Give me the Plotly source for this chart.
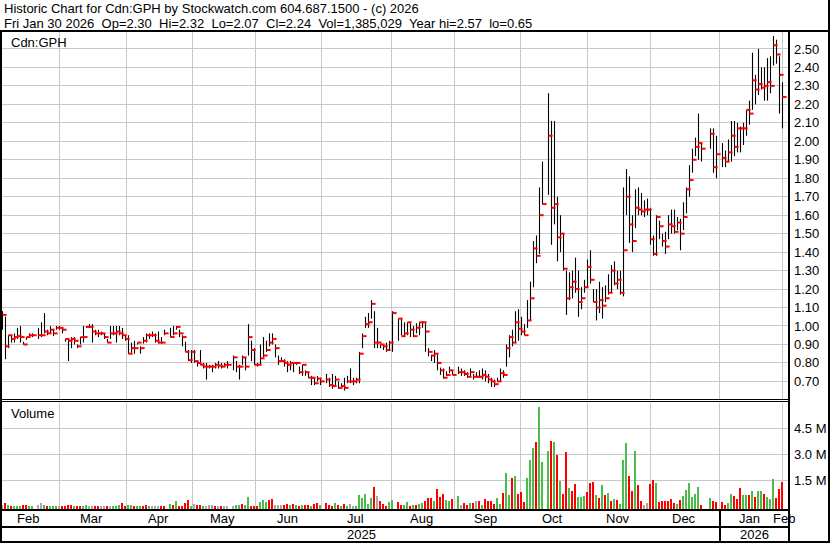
import numpy as np
import pandas as pd
import plotly.graph_objects as go

W, H = 830, 543
# plot box (pixels) shared by the price and volume panels
PL, PR, PT, PB = 2, 788, 32, 509
# weekday slot k sits at pixel X0 + DX * k (half-pixel centres keep 1px sticks crisp)
X0, DX = 5.5, 3.0

start = "2025-01-31"
end = "2026-01-30"
holidays = ["2025-02-17", "2025-04-18", "2025-05-19", "2025-07-01", "2025-08-04",
            "2025-09-01", "2025-10-13", "2025-12-25", "2025-12-26", "2026-01-01"]

# daily high / low / close, one row per month (Jan 31 2025 first)
high = [1.08,
        1.05, 0.95, 0.95, 0.96, 0.99, 1.00, 0.915, 0.94, 0.96, 0.96, 0.99, 1.02, 1.07, 0.98, 1.00, 0.98, 1.00, 1.00, 0.99,
        0.93, 0.93, 0.94, 0.94, 0.90, 0.94, 1.00, 1.00, 1.01, 1.01, 0.98, 0.98, 0.97, 0.96, 0.93, 1.00, 1.00, 1.00, 1.00, 0.99, 0.95,
        0.95, 0.91, 0.92, 0.91, 0.89, 0.94, 0.96, 0.96, 0.97, 0.96, 0.97, 0.94, 0.98, 0.99, 1.00, 1.00, 0.98, 0.95, 0.915, 0.87, 0.87,
        0.87, 0.81, 0.87, 0.80, 0.80, 0.79, 0.79, 0.80, 0.81, 0.80, 0.80, 0.81, 0.84, 0.81, 0.79, 0.84, 0.83, 1.01, 0.92, 0.88, 0.80,
        0.90, 0.94, 0.92, 0.96, 0.96, 0.90, 0.84, 0.83, 0.82, 0.81, 0.81, 0.80, 0.80, 0.78, 0.79, 0.76, 0.75, 0.73, 0.72, 0.73, 0.72,
        0.74, 0.72, 0.74, 0.73, 0.70, 0.69, 0.72, 0.73, 0.77, 0.72, 0.72, 0.86, 0.96, 1.05, 1.07, 1.14, 1.08, 0.99, 0.90, 0.90, 0.91, 0.92,
        1.08, 1.04, 1.04, 1.02, 1.02, 1.015, 1.00, 1.015, 1.02, 1.02, 1.015, 0.88, 0.845, 0.87, 0.845, 0.775, 0.77, 0.755, 0.78, 0.76,
        0.78, 0.77, 0.76, 0.75, 0.77, 0.74, 0.75, 0.76, 0.77, 0.76, 0.74, 0.72, 0.71, 0.72, 0.77, 0.76, 0.90, 0.95, 0.98, 1.08, 1.09,
        1.05, 1.01, 1.14, 1.24, 1.46, 1.49, 1.75, 1.89, 2.26, 2.11, 2.11, 1.70, 1.60, 1.50, 1.30, 1.29, 1.30, 1.37, 1.30, 1.21, 1.25, 1.36,
        1.41, 1.20, 1.20, 1.24, 1.21, 1.22, 1.28, 1.33, 1.35, 1.30, 1.30, 1.75, 1.85, 1.81, 1.60, 1.74, 1.75, 1.72, 1.68, 1.69,
        1.64, 1.49, 1.60, 1.57, 1.50, 1.51, 1.60, 1.63, 1.63, 1.59, 1.58, 1.67, 1.75, 1.87, 1.96, 2.02, 2.15, 1.99, 2.07, 2.07, 2.03,
        1.99, 1.95, 2.01, 2.11, 2.11, 2.10, 2.08, 2.10, 2.17, 2.22, 2.48, 2.36, 2.50, 2.40, 2.40, 2.45, 2.46, 2.57, 2.55, 2.46, 2.32]

low = [0.98,
       0.82, 0.88, 0.91, 0.91, 0.93, 0.91, 0.90, 0.925, 0.94, 0.94, 0.93, 0.94, 0.96, 0.95, 0.96, 0.945, 0.98, 0.98, 0.96,
       0.915, 0.81, 0.88, 0.90, 0.88, 0.90, 0.91, 0.99, 0.99, 0.91, 0.95, 0.94, 0.95, 0.93, 0.91, 0.93, 0.95, 0.91, 0.95, 0.93, 0.92,
       0.85, 0.855, 0.85, 0.90, 0.85, 0.905, 0.91, 0.93, 0.94, 0.91, 0.905, 0.905, 0.95, 0.94, 0.95, 0.98, 0.94, 0.89, 0.86, 0.81, 0.80,
       0.80, 0.78, 0.79, 0.77, 0.71, 0.77, 0.75, 0.77, 0.77, 0.77, 0.78, 0.77, 0.76, 0.75, 0.71, 0.79, 0.76, 0.84, 0.81, 0.79, 0.78,
       0.79, 0.83, 0.86, 0.89, 0.90, 0.83, 0.79, 0.81, 0.78, 0.75, 0.76, 0.75, 0.79, 0.74, 0.73, 0.73, 0.72, 0.68, 0.68, 0.70, 0.68,
       0.69, 0.67, 0.66, 0.67, 0.66, 0.67, 0.65, 0.69, 0.69, 0.68, 0.69, 0.69, 0.88, 0.99, 0.99, 1.04, 0.88, 0.88, 0.88, 0.87, 0.86, 0.87,
       0.86, 0.92, 0.95, 0.94, 0.95, 0.94, 0.94, 0.96, 0.95, 0.99, 0.86, 0.835, 0.81, 0.80, 0.76, 0.735, 0.715, 0.73, 0.745, 0.735,
       0.74, 0.73, 0.73, 0.72, 0.73, 0.71, 0.72, 0.72, 0.71, 0.70, 0.69, 0.67, 0.67, 0.70, 0.70, 0.72, 0.78, 0.83, 0.89, 0.91, 0.92,
       0.95, 0.95, 0.99, 1.03, 1.21, 1.34, 1.39, 1.66, 1.71, 1.44, 1.55, 1.35, 1.40, 1.30, 1.06, 1.14, 1.15, 1.18, 1.05, 1.09, 1.18, 1.21,
       1.23, 1.13, 1.03, 1.07, 1.04, 1.13, 1.17, 1.18, 1.22, 1.20, 1.17, 1.16, 1.60, 1.45, 1.40, 1.53, 1.60, 1.60, 1.59, 1.60,
       1.44, 1.38, 1.38, 1.47, 1.43, 1.39, 1.47, 1.50, 1.50, 1.52, 1.41, 1.52, 1.61, 1.70, 1.83, 1.92, 1.90, 1.89, 1.96, 1.83, 1.80,
       1.86, 1.86, 1.89, 1.89, 1.92, 1.94, 1.94, 1.98, 2.03, 2.09, 2.17, 2.20, 2.25, 2.28, 2.22, 2.22, 2.26, 2.41, 2.42, 2.15, 2.07]

close = [1.06,
         0.89, 0.95, 0.93, 0.94, 0.945, 0.94, 0.90, 0.94, 0.95, 0.95, 0.95, 0.95, 0.97, 0.96, 0.98, 0.96, 0.99, 0.99, 0.98,
         0.93, 0.92, 0.93, 0.92, 0.89, 0.94, 0.94, 0.995, 0.995, 0.97, 0.96, 0.96, 0.96, 0.94, 0.91, 0.96, 0.96, 0.97, 0.96, 0.95, 0.93,
         0.85, 0.88, 0.88, 0.91, 0.88, 0.92, 0.95, 0.95, 0.95, 0.92, 0.91, 0.91, 0.96, 0.94, 0.96, 0.995, 0.96, 0.94, 0.86, 0.815, 0.86,
         0.81, 0.80, 0.79, 0.78, 0.78, 0.78, 0.78, 0.79, 0.785, 0.78, 0.79, 0.79, 0.83, 0.78, 0.78, 0.83, 0.78, 0.94, 0.87, 0.79, 0.79,
         0.825, 0.84, 0.87, 0.91, 0.93, 0.88, 0.81, 0.81, 0.80, 0.79, 0.80, 0.80, 0.80, 0.75, 0.79, 0.75, 0.72, 0.72, 0.69, 0.715, 0.70,
         0.71, 0.68, 0.675, 0.71, 0.665, 0.675, 0.665, 0.70, 0.70, 0.70, 0.71, 0.85, 0.945, 1.01, 1.02, 1.12, 0.91, 0.91, 0.90, 0.89, 0.87, 0.91,
         1.07, 1.04, 0.945, 0.96, 1.02, 0.98, 0.945, 0.99, 1.02, 1.02, 0.97, 0.86, 0.84, 0.85, 0.80, 0.76, 0.72, 0.735, 0.76, 0.735,
         0.75, 0.75, 0.74, 0.725, 0.75, 0.725, 0.725, 0.725, 0.735, 0.725, 0.71, 0.70, 0.685, 0.70, 0.745, 0.735, 0.88, 0.94, 0.91, 1.02, 0.985,
         0.97, 0.95, 1.03, 1.15, 1.42, 1.38, 1.60, 1.66, 2.03, 1.64, 1.66, 1.48, 1.50, 1.31, 1.15, 1.21, 1.24, 1.20, 1.13, 1.15, 1.21, 1.32,
         1.25, 1.13, 1.10, 1.14, 1.11, 1.15, 1.18, 1.30, 1.23, 1.25, 1.18, 1.41, 1.70, 1.55, 1.46, 1.64, 1.63, 1.62, 1.63, 1.63,
         1.47, 1.39, 1.59, 1.54, 1.46, 1.43, 1.55, 1.54, 1.51, 1.56, 1.50, 1.59, 1.74, 1.79, 1.90, 1.97, 1.99, 1.96, 2.04, 1.86, 1.93,
         1.91, 1.89, 1.94, 2.03, 1.97, 2.07, 2.07, 2.07, 2.17, 2.15, 2.33, 2.28, 2.31, 2.29, 2.30, 2.32, 2.30, 2.52, 2.47, 2.36, 2.24]

# daily volume, millions of shares
volume_m = [0.05,
            0.17, 0.07, 0.03, 0.02, 0.02, 0.02, 0.05, 0.07, 0.02, 0.02, 0.05, 0.19, 0.05, 0.03, 0.03, 0.03, 0.03, 0.02, 0.03,
            0.03, 0.05, 0.05, 0.02, 0.02, 0.03, 0.03, 0.06, 0.03, 0.03, 0.03, 0.03, 0.02, 0.02, 0.02, 0.02, 0.03, 0.03, 0.05, 0.19, 0.03,
            0.05, 0.05, 0.03, 0.03, 0.02, 0.03, 0.07, 0.02, 0.03, 0.03, 0.03, 0.03, 0.03, 0.12, 0.05, 0.31, 0.02, 0.02, 0.17, 0.36, 0.03,
            0.13, 0.07, 0.05, 0.03, 0.03, 0.05, 0.05, 0.03, 0.03, 0.03, 0.02, 0.02, 0.03, 0.07, 0.07, 0.13, 0.07, 0.55, 0.03, 0.03, 0.03,
            0.27, 0.36, 0.25, 0.36, 0.40, 0.05, 0.05, 0.05, 0.05, 0.15, 0.05, 0.13, 0.05, 0.02, 0.07, 0.07, 0.10, 0.02, 0.13, 0.17, 0.05,
            0.17, 0.05, 0.02, 0.17, 0.05, 0.02, 0.13, 0.02, 0.12, 0.03, 0.03, 0.65, 0.48, 0.71, 0.13, 0.50, 1.11, 0.59, 0.30, 0.13, 0.03, 0.27,
            0.36, 0.25, 0.07, 0.07, 0.25, 0.03, 0.05, 0.07, 0.13, 0.19, 0.30, 0.48, 0.48, 0.30, 1.00, 0.53, 0.71, 0.36, 0.30, 0.42,
            0.59, 0.07, 0.19, 0.07, 0.19, 0.19, 0.30, 0.30, 0.07, 0.42, 0.30, 0.30, 0.13, 0.48, 0.13, 0.76, 1.92, 0.65, 1.63, 1.75, 0.71,
            0.82, 0.25, 1.63, 2.67, 3.36, 3.71, 5.75, 2.56, 3.19, 3.77, 3.71, 2.96, 1.46, 0.71, 3.13, 1.06, 0.91, 1.28, 0.53, 0.53, 0.59, 0.82,
            1.34, 1.40, 0.65, 0.48, 1.23, 0.65, 0.76, 0.30, 0.42, 0.36, 0.13, 2.67, 3.65, 1.75, 0.88, 3.19, 1.23, 0.30, 0.05, 0.19,
            1.28, 1.52, 1.34, 0.25, 0.30, 0.30, 0.30, 0.42, 0.19, 0.13, 0.36, 0.59, 0.94, 1.34, 0.53, 0.71, 1.11, 0.07, 0.48, 0.30, 0.25,
            0.25, 0.07, 0.19, 0.71, 0.59, 0.42, 1.06, 0.65, 0.65, 0.65, 0.88, 0.53, 0.88, 0.88, 0.71, 0.53, 0.42, 1.57, 0.48, 1.00, 1.385]

# volume bar colour per day: g = up, r = down, n = unchanged (one string per month)
volume_dir = "".join([
    "n",
    "rgrgggrrggnngrgggnr",
    "rrrgrrggnnrrnnrngggrr",
    "ggrggrrgnnnrrgrgrrrrg",
    "nrrgnnnrnrnnnggrggrrr",
    "gggrrnnnrrgrgrgrrgrrg",
    "rrrgrgrgnnggggggrnrrrg",
    "grrggrgrggrrrgrrrggr",
    "gnrrgrnrgrrrrggrggrgr",
    "rrgggrgggrgrgrrgrrgggr",
    "rrgrgrgrgrgggrrgrrnn",
    "rrgrrrrrrgrggggggrgrr",
    "rrggrrrggrgrggrgggrrr",
])

price_ticks = [0.70, 0.80, 0.90, 1.00, 1.10, 1.20, 1.30, 1.40, 1.50, 1.60,
               1.70, 1.80, 1.90, 2.00, 2.10, 2.20, 2.30, 2.40, 2.50]
volume_ticks = [1.5, 3.0, 4.5]
month_names = ["Feb", "Mar", "Apr", "May", "Jun", "Jul", "Aug", "Sep", "Oct",
               "Nov", "Dec", "Jan", "Feb"]
years = ["2025", "2026"]
# month boundary grid lines, pixels (Mar 2025 ... Feb 2026)
month_grid_px = [59.5, 126.5, 192.5, 255.5, 321.5, 391.5, 454.5, 520.5, 587.5, 650.5, 719.5, 782.5]

GAP = "&nbsp;" * 2
title_1 = "Historic Chart for Cdn:GPH by Stockwatch.com 604.687.1500 - (c) 2026"
title_2 = GAP.join(["Fri Jan 30 2026", "Op=2.30", "Hi=2.32", "Lo=2.07", "Cl=2.24",
                    "Vol=1,385,029", "Year hi=2.57", "lo=0.65"])

# ---- trading days on a weekday axis (holidays leave gaps) ----
days = pd.bdate_range(start, end)
days = days[~days.isin(pd.to_datetime(holidays))]
origin = np.datetime64("2025-02-03")
k = np.busday_count(origin, days.values.astype("datetime64[D]")).astype(float)

n = len(days)
assert len(high) == n and len(low) == n and len(close) == n
assert len(volume_m) == n and len(volume_dir) == n, (len(volume_m), len(volume_dir), n)


def px(x):
    return (x - PL) / (PR - PL)


def py(y):
    return (PB - y) / (PB - PT)


def to_k(xpix):
    return (xpix - X0) / DX


grid_k = [to_k(g) for g in month_grid_px]
bounds = [0] + month_grid_px + [789.4]
label_px = [(a + b) / 2 - 1.5 for a, b in zip(bounds[:-1], bounds[1:])]

# high-low sticks
stick_x, stick_y = [], []
for kk, h, l in zip(k, high, low):
    stick_x += [kk, kk, None]
    stick_y += [l, h, None]

colors = {"g": "#4cbb4c", "r": "#ff0000", "n": "#a8a8a8"}
vol = np.array(volume_m) * 1e6
vol_floor = -0.156e6

fig = go.Figure()
fig.add_trace(go.Scatter(x=stick_x, y=stick_y, mode="lines",
                         line=dict(color="black", width=1.1),
                         hoverinfo="skip", xaxis="x", yaxis="y"))
fig.add_trace(go.Scatter(x=k + 2 / 3, y=close, mode="markers",
                         marker=dict(symbol="line-ew", size=3,
                                     line=dict(color="#ff0000", width=2)),
                         xaxis="x", yaxis="y"))
fig.add_trace(go.Bar(x=k - 1 / 6, y=vol - vol_floor, base=vol_floor, width=2 / 3,
                     marker=dict(color=[colors[c] for c in volume_dir], line=dict(width=0)),
                     xaxis="x2", yaxis="y2"))

grid_color = "#c8c8c8"
font = dict(family="Arial, Liberation Sans, sans-serif", size=13, color="black")
xcommon = dict(range=[to_k(PL), to_k(PR)], tickvals=grid_k, showticklabels=False,
               showgrid=True, gridcolor=grid_color, gridwidth=1, zeroline=False,
               showline=False, ticks="")

fig.update_layout(
    width=W, height=H,
    margin=dict(l=PL, r=W - PR, t=PT, b=H - PB, pad=0),
    paper_bgcolor="white", plot_bgcolor="white",
    showlegend=False, font=font,
    xaxis=dict(domain=[0, 1], anchor="y", **xcommon),
    xaxis2=dict(domain=[0, 1], anchor="y2", matches="x", **xcommon),
    yaxis=dict(domain=[py(400), 1], anchor="x", side="right",
               range=[0.5993, 2.5917], tickvals=price_ticks,
               ticktext=[f"{v:.2f}" for v in price_ticks],
               showgrid=True, gridcolor=grid_color, zeroline=False,
               ticks="", ticklabelstandoff=5, tickfont=font),
    yaxis2=dict(domain=[0, py(403)], anchor="x2", side="right",
                range=[vol_floor, 5.96e6], tickvals=[v * 1e6 for v in volume_ticks],
                ticktext=[f"{v:.1f} M" for v in volume_ticks],
                showgrid=True, gridcolor=grid_color, zeroline=False,
                ticks="", ticklabelstandoff=5, tickfont=font),
    bargap=0,
)


# frame lines
def hline(y, x0, x1, w):
    return dict(type="line", xref="paper", yref="paper", x0=px(x0), x1=px(x1),
                y0=py(y), y1=py(y), line=dict(color="black", width=w))


def vline(x, y0, y1, w):
    return dict(type="line", xref="paper", yref="paper", x0=px(x), x1=px(x),
                y0=py(y0), y1=py(y1), line=dict(color="black", width=w))


shapes = [
    hline(31, 0, W, 2),
    hline(399.5, 0, 789, 1),
    hline(401.5, 0, 789, 1),
    hline(510, 0, 789, 2),
    hline(527, 0, 789, 2),
    hline(542, 0, W, 2),
    vline(1, 31, H, 2),
    vline(789, 31, H, 2),
    vline(829, 0, H, 2),
    vline(720, 510, 542, 2),
]
fig.update_layout(shapes=shapes)

ann = [
    dict(text=title_1, x=px(2), y=py(9), xanchor="left", yanchor="middle"),
    dict(text=title_2, x=px(2), y=py(23), xanchor="left", yanchor="middle"),
    dict(text="Cdn:GPH", x=px(9), y=py(42), xanchor="left", yanchor="middle"),
    dict(text="Volume", x=px(9), y=py(413), xanchor="left", yanchor="middle"),
]
for a in ann:
    a.update(xref="paper", yref="paper", showarrow=False, font=font)
for name, lx in zip(month_names, label_px):
    ann.append(dict(text=name, x=lx, y=518.5))
ann.append(dict(text=years[0], x=(2 + 720) / 2, y=534.5))
ann.append(dict(text=years[1], x=(720 + 789) / 2, y=534.5))
for a in ann[4:]:
    a.update(x=px(a["x"]), y=py(a["y"]), xref="paper", yref="paper",
             xanchor="center", yanchor="middle", showarrow=False, font=font)
fig.update_layout(annotations=ann)

# the page's default body margin would push the figure 8px down and right
fig.write_html("out.html", config={"displayModeBar": False},
               post_script="document.body.style.margin='0px';")
